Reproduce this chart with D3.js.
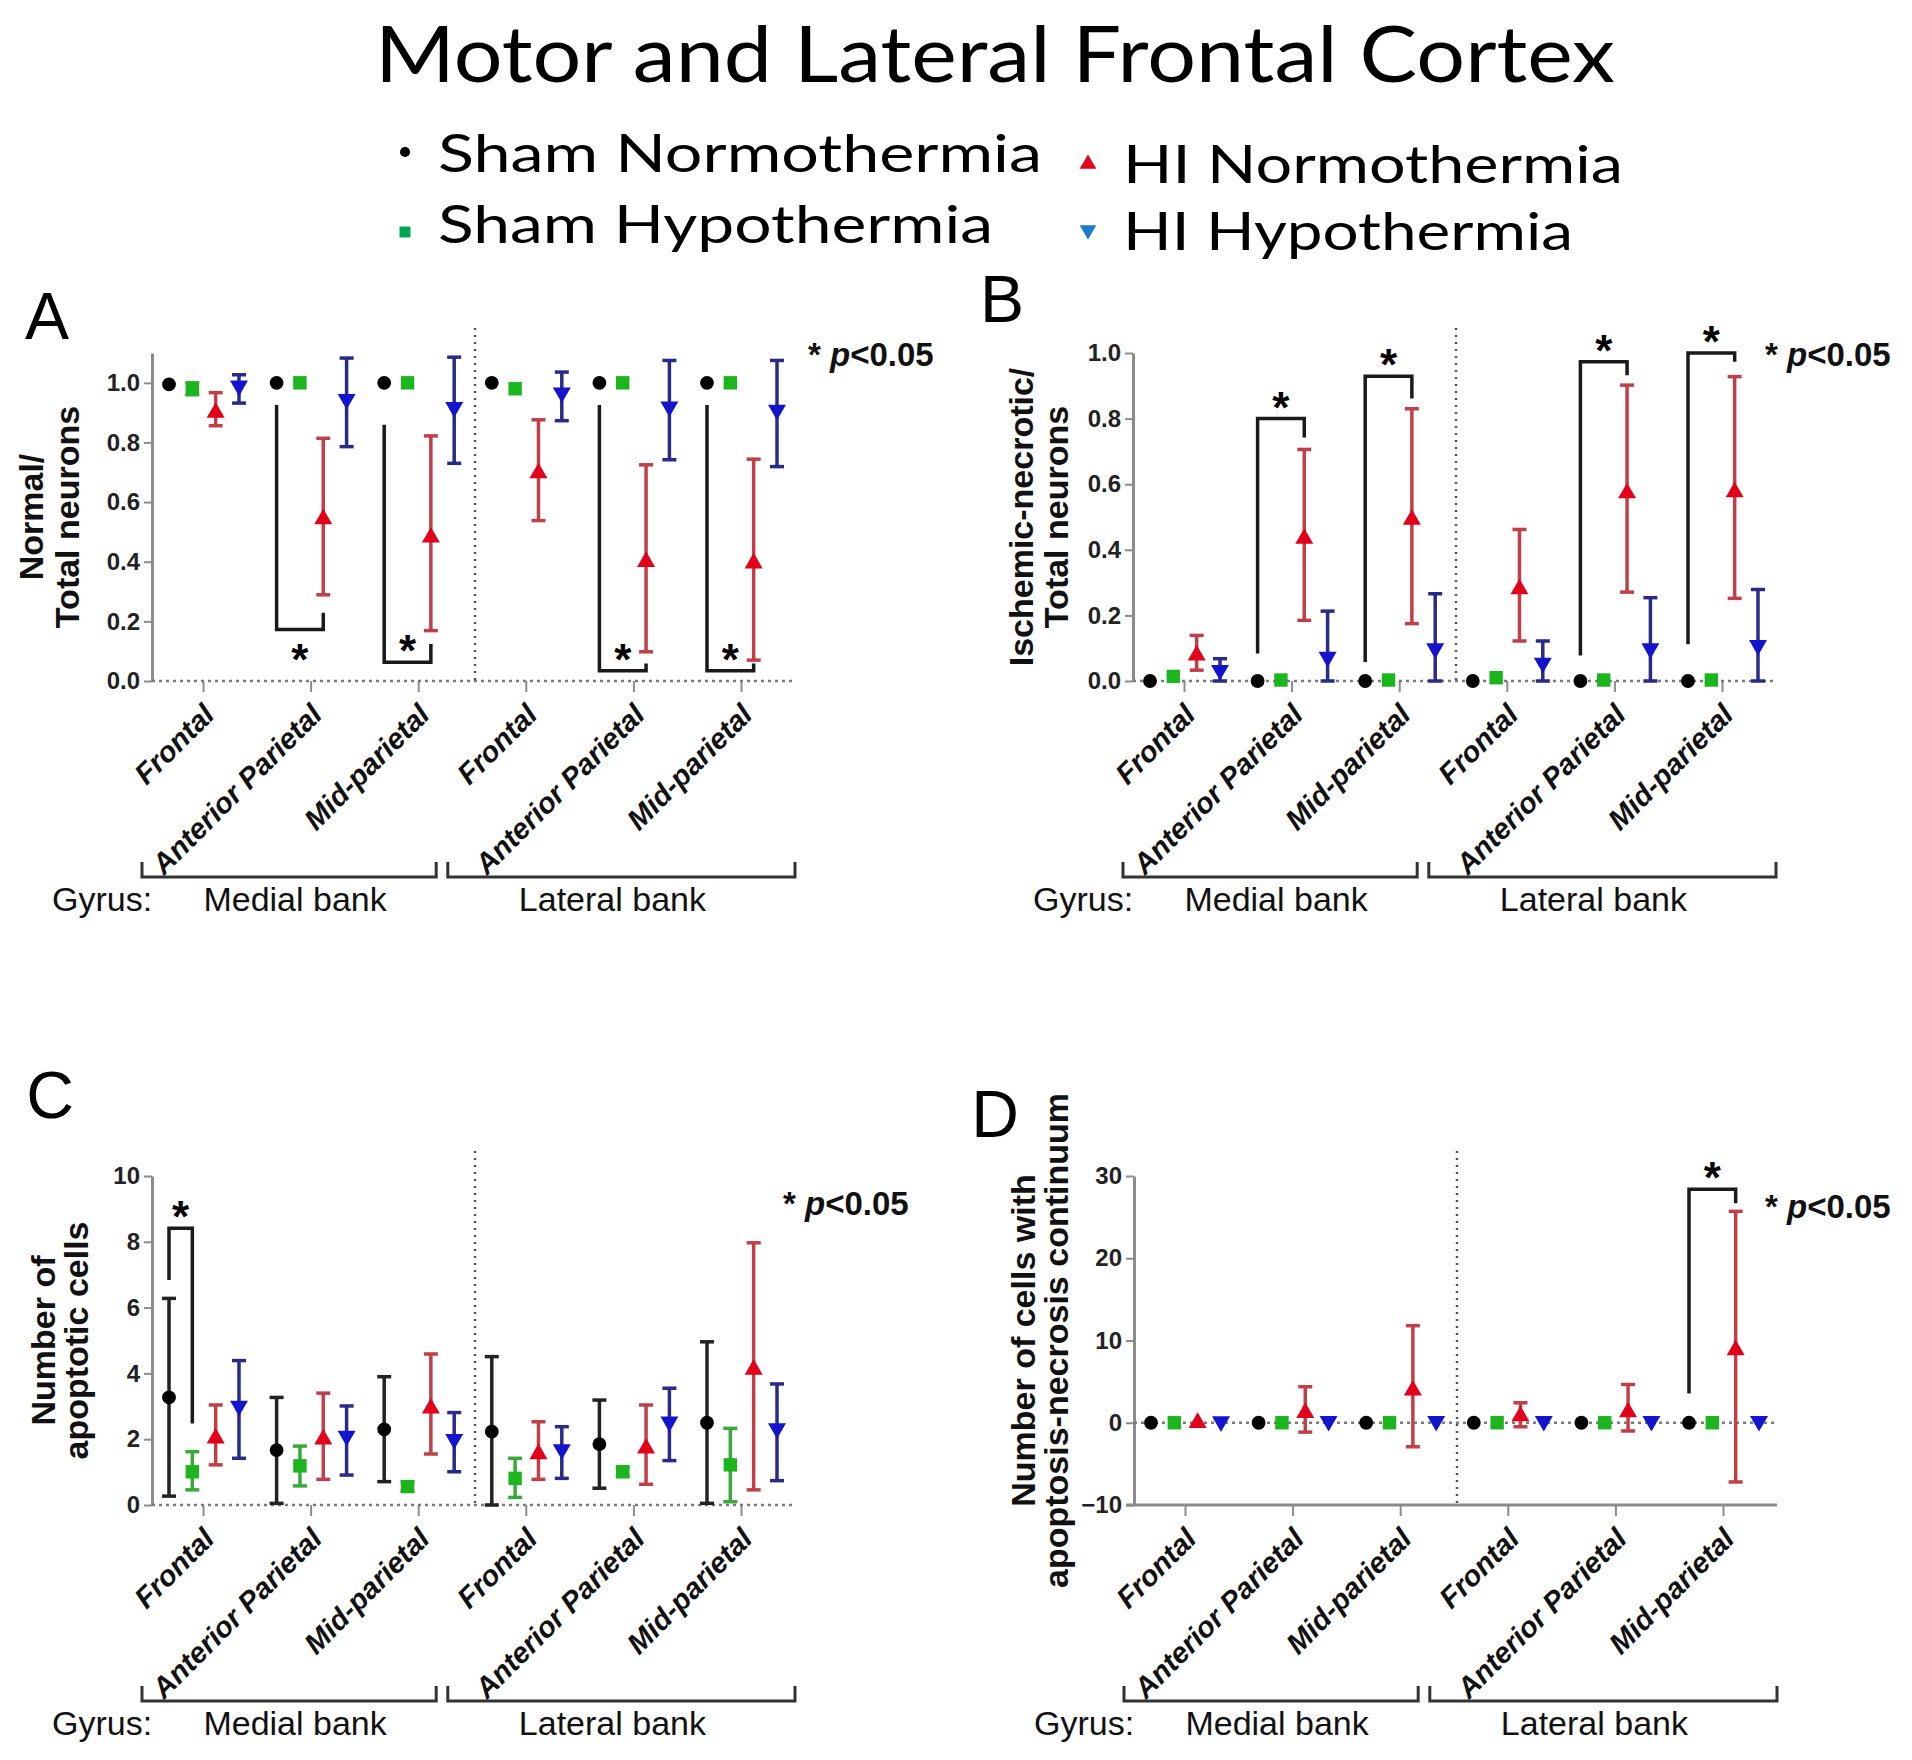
<!DOCTYPE html>
<html>
<head>
<meta charset="utf-8">
<script src="https://cdn.jsdelivr.net/npm/d3@7"></script>
<style>
  body { margin: 0; background: #fff; }
  svg { display: block; }
</style>
</head>
<body>
<div id="chart"></div>
<script>
// Categories
const regions = ["Frontal", "Anterior Parietal", "Mid-parietal", "Frontal", "Anterior Parietal", "Mid-parietal"];
const banks = ["Medial bank", "Lateral bank"];
const seriesNames = ["Sham Normothermia", "Sham Hypothermia", "HI Normothermia", "HI Hypothermia"];

// Values per gyrus as [mean, lower, upper]
// A: Normal / Total neurons
const aShamNormo = [[0.995, 0.995, 0.995], [1, 1, 1], [1, 1, 1], [1, 1, 1], [1, 1, 1], [1, 1, 1]];
const aShamHypo = [[0.98, 0.96, 1.0], [1, 1, 1], [1, 1, 1], [0.98, 0.97, 0.99], [1, 1, 1], [1, 1, 1]];
const aHINormo = [[0.90, 0.856, 0.967], [0.543, 0.289, 0.814], [0.482, 0.169, 0.822], [0.697, 0.538, 0.876], [0.40, 0.098, 0.725], [0.395, 0.07, 0.744]];
const aHIHypo = [[0.99, 0.932, 1.027], [0.945, 0.786, 1.083], [0.918, 0.73, 1.086], [0.967, 0.873, 1.036], [0.92, 0.742, 1.075], [0.909, 0.719, 1.075]];

// B: Ischemic-necrotic / Total neurons
const bShamNormo = [[0, 0, 0], [0, 0, 0], [0, 0, 0], [0, 0, 0], [0, 0, 0], [0, 0, 0]];
const bShamHypo = [[0.014, 0.004, 0.024], [0.003, 0.003, 0.003], [0.003, 0.003, 0.003], [0.01, 0.003, 0.017], [0.003, 0.003, 0.003], [0.003, 0.003, 0.003]];
const bHINormo = [[0.078, 0.033, 0.139], [0.434, 0.185, 0.706], [0.492, 0.175, 0.83], [0.28, 0.122, 0.462], [0.573, 0.271, 0.902], [0.576, 0.252, 0.928]];
const bHIHypo = [[0.033, 0, 0.068], [0.073, 0, 0.213], [0.099, 0, 0.266], [0.055, 0, 0.122], [0.099, 0, 0.254], [0.109, 0, 0.279]];

// C: Number of apoptotic cells
const cShamNormo = [[3.27, 0.27, 6.28], [1.67, 0.05, 3.27], [2.30, 0.71, 3.90], [2.23, 0, 4.51], [1.85, 0.51, 3.19], [2.50, 0.05, 4.96]];
const cShamHypo = [[1.01, 0.46, 1.62], [1.19, 0.58, 1.79], [0.56, 0.42, 0.70], [0.81, 0.23, 1.42], [1.01, 0.87, 1.15], [1.22, 0.1, 2.33]];
const cHINormo = [[2.03, 1.22, 3.04], [2.0, 0.78, 3.40], [2.94, 1.55, 4.59], [1.55, 0.78, 2.53], [1.72, 0.63, 3.04], [4.12, 0.46, 7.97]];
const cHIHypo = [[3.01, 1.42, 4.39], [2.10, 0.91, 3.01], [2.0, 1.01, 2.81], [1.69, 0.81, 2.38], [2.53, 1.35, 3.55], [2.33, 0.74, 3.68]];

// D: Number of cells with apoptosis-necrosis continuum
const dShamNormo = [[0, 0, 0], [0, 0, 0], [0, 0, 0], [0, 0, 0], [0, 0, 0], [0, 0, 0]];
const dShamHypo = [[0, 0, 0], [0, 0, 0], [0, 0, 0], [0, 0, 0], [0, 0, 0], [0, 0, 0]];
const dHINormo = [[0, 0, 0], [1.22, -1.14, 4.38], [3.94, -2.92, 11.8], [0.8, -0.49, 2.43], [1.29, -1.0, 4.65], [8.83, -7.2, 25.7]];
const dHIHypo = [[0.15, 0.15, 0.15], [0.2, 0.2, 0.2], [0.2, 0.2, 0.2], [0.2, 0.2, 0.2], [0.2, 0.2, 0.2], [0.2, 0.2, 0.2]];

// Tick values
const aTicks = [0, 0.2, 0.4, 0.6, 0.8, 1.0];
const bTicks = [0, 0.2, 0.4, 0.6, 0.8, 1.0];
const cTicks = [0, 2, 4, 6, 8, 10];
const dTicks = [-10, 0, 10, 20, 30];

// Significance brackets: gyrus, series from/to, arm ends and bar level in data units
const aSig = [
  { group: 1, from: 0, to: 2, left: 0.926, bar: 0.173, right: 0.229, star: "below" },
  { group: 2, from: 0, to: 2, left: 0.859, bar: 0.063, right: 0.124, star: "inside" },
  { group: 4, from: 0, to: 2, left: 0.926, bar: 0.034, right: 0.059, star: "inside" },
  { group: 5, from: 0, to: 2, left: 0.926, bar: 0.034, right: 0.059, star: "inside" }
];
const bSig = [
  { group: 1, from: 0, to: 2, left: 0.084, bar: 0.80, right: 0.742, star: "above" },
  { group: 2, from: 0, to: 2, left: 0.058, bar: 0.929, right: 0.861, star: "above" },
  { group: 4, from: 0, to: 2, left: 0.078, bar: 0.973, right: 0.932, star: "above" },
  { group: 5, from: 0, to: 2, left: 0.112, bar: 1.0, right: 0.973, star: "above" }
];
const cSig = [
  { group: 0, from: 0, to: 1, left: 6.84, bar: 8.41, right: 2.48, star: "above" }
];
const dSig = [
  { group: 5, from: 0, to: 2, left: 3.56, bar: 28.4, right: 26.7, star: "above" }
];

// Styles per series
const markerFill = ["#000000", "#1db51d", "#e2001a", "#1414cc"];
const barColor = ["#222222", "#3aa83a", "#c0404a", "#2a2a88"];
const symbols = [d3.symbolCircle, d3.symbolSquare, d3.symbolTriangle, d3.symbolTriangle];
const symbolSize = [150, 180, 140, 140];
const symbolRotate = [0, 0, 0, 180];

const arial = "'Liberation Sans', Arial, sans-serif";
const calibri = "Lato, 'Open Sans', sans-serif";

const svg = d3.select("#chart")
  .append("svg")
  .attr("width", 1912)
  .attr("height", 1760)
  .style("background", "#fff");

// Title
svg.append("text")
  .attr("x", 995)
  .attr("y", 82)
  .attr("text-anchor", "middle")
  .attr("font-family", calibri)
  .attr("font-size", 78)
  .attr("textLength", 1240)
  .attr("lengthAdjust", "spacingAndGlyphs")
  .attr("fill", "#000")
  .text("Motor and Lateral Frontal Cortex");

// Legend
const legendItems = [
  { name: seriesNames[0], s: 0, mx: 405, my: 152, tx: 438, ty: 172, w: 604 },
  { name: seriesNames[1], s: 1, mx: 405, my: 232, tx: 438, ty: 243, w: 555 },
  { name: seriesNames[2], s: 2, mx: 1088, my: 164, tx: 1123, ty: 183, w: 500 },
  { name: seriesNames[3], s: 3, mx: 1088, my: 230, tx: 1123, ty: 250, w: 450 }
];
const legend = svg.append("g").attr("class", "legend");
legend.selectAll("text")
  .data(legendItems)
  .enter()
  .append("text")
  .attr("x", d => d.tx)
  .attr("y", d => d.ty)
  .attr("font-family", calibri)
  .attr("font-size", 52)
  .attr("textLength", d => d.w)
  .attr("lengthAdjust", "spacingAndGlyphs")
  .attr("fill", "#000")
  .text(d => d.name);

legend.selectAll("path")
  .data(legendItems)
  .enter()
  .append("path")
  .attr("d", d => d3.symbol().type(symbols[d.s]).size(d.s === 0 ? 80 : 120)())
  .attr("transform", d => `translate(${d.mx},${d.my}) rotate(${symbolRotate[d.s]})`)
  .style("fill", d => (d.s === 1 ? "#00a651" : d.s === 3 ? "#1f78c8" : markerFill[d.s]));

function drawPanel(cfg) {
  const g = svg.append("g").attr("class", "panel");
  const xEnd = cfg.x0 + 643;
  const x = d3.scalePoint().domain(d3.range(6)).range([cfg.x0 + 51, cfg.x0 + 51 + 5 * 107.6]);
  const sub = d3.scalePoint().domain(d3.range(4)).range([-34, 36]);
  const y = d3.scaleLinear().domain(cfg.domain).range([cfg.yBottom, cfg.yTop]);
  const px = (grp, s) => x(grp) + sub(s);

  // Panel letter
  g.append("text")
    .attr("x", cfg.letter[1])
    .attr("y", cfg.letter[2])
    .attr("text-anchor", "middle")
    .attr("font-family", arial)
    .attr("font-size", 66)
    .text(cfg.letter[0]);

  // Y axis
  const yAxis = g.append("g")
    .attr("transform", `translate(${cfg.x0},0)`)
    .call(d3.axisLeft(y).tickValues(cfg.ticks).tickFormat(cfg.fmt).tickSize(8).tickSizeOuter(0).tickPadding(4));
  yAxis.select(".domain").attr("stroke", "#8c8c8c").attr("stroke-width", 3);
  yAxis.selectAll(".tick line").attr("stroke", "#8c8c8c").attr("stroke-width", 2);
  yAxis.selectAll(".tick text")
    .attr("font-family", arial)
    .attr("font-size", 24)
    .attr("font-weight", "bold")
    .attr("fill", "#222");

  // Y axis title
  cfg.yTitle.forEach((line, i) => {
    g.append("text")
      .attr("transform", `translate(${cfg.yTitleX[i]},${(cfg.yTop + cfg.yBottom) / 2}) rotate(-90)`)
      .attr("dy", "0.35em")
      .attr("text-anchor", "middle")
      .attr("font-family", arial)
      .attr("font-size", 34)
      .attr("font-weight", "bold")
      .attr("fill", "#111")
      .text(line);
  });

  // X axis (solid bottom line when the scale goes below zero)
  const baseY = y(cfg.domain[0]);
  if (cfg.domain[0] < 0) {
    g.append("line")
      .attr("x1", cfg.x0 - 8).attr("x2", xEnd)
      .attr("y1", baseY).attr("y2", baseY)
      .attr("stroke", "#8c8c8c").attr("stroke-width", 3);
  }
  const xAxis = g.append("g")
    .attr("transform", `translate(0,${baseY})`)
    .call(d3.axisBottom(x).tickSize(11).tickFormat(i => regions[i]));
  xAxis.select(".domain").remove();
  xAxis.selectAll(".tick line").attr("stroke", "#8c8c8c").attr("stroke-width", 2);
  xAxis.selectAll(".tick text")
    .attr("x", 0)
    .attr("y", 0)
    .attr("dy", "0.71em")
    .attr("text-anchor", "end")
    .attr("transform", "translate(-2,21) rotate(-45)")
    .attr("font-family", arial)
    .attr("font-size", 29)
    .attr("font-weight", "bold")
    .attr("font-style", "italic")
    .attr("fill", "#111");

  // Dotted zero line
  g.append("line")
    .attr("x1", cfg.x0).attr("x2", xEnd)
    .attr("y1", y(0)).attr("y2", y(0))
    .attr("stroke", "#7a7a7a")
    .attr("stroke-width", 2.5)
    .attr("stroke-dasharray", "3,4");

  // Dotted separator between medial and lateral banks
  const sepX = (x(2) + x(3)) / 2 + 3;
  g.append("line")
    .attr("x1", sepX).attr("x2", sepX)
    .attr("y1", cfg.yTop - 25).attr("y2", baseY)
    .attr("stroke", "#555")
    .attr("stroke-width", 2.5)
    .attr("stroke-dasharray", "2,5");

  // Flatten series into points
  const points = [];
  cfg.data.forEach((arr, s) => {
    arr.forEach((v, grp) => points.push({ s, grp, mean: v[0], lo: v[1], hi: v[2] }));
  });

  // Error bars
  const bars = g.append("g").attr("class", "errorbars");
  const withErr = points.filter(d => d.hi - d.lo > 0.0001);
  bars.selectAll(".stem")
    .data(withErr)
    .enter()
    .append("line")
    .attr("x1", d => px(d.grp, d.s)).attr("x2", d => px(d.grp, d.s))
    .attr("y1", d => y(d.lo)).attr("y2", d => y(d.hi))
    .attr("stroke", d => barColor[d.s])
    .attr("stroke-width", 3.5);
  ["lo", "hi"].forEach(k => {
    bars.selectAll(".cap-" + k)
      .data(withErr.filter(d => Math.abs(y(d[k]) - y(d.mean)) > 4))
      .enter()
      .append("line")
      .attr("x1", d => px(d.grp, d.s) - 7).attr("x2", d => px(d.grp, d.s) + 7)
      .attr("y1", d => y(d[k])).attr("y2", d => y(d[k]))
      .attr("stroke", d => barColor[d.s])
      .attr("stroke-width", 3.5);
  });

  // Markers
  g.append("g").attr("class", "markers")
    .selectAll("path")
    .data(points)
    .enter()
    .append("path")
    .attr("d", d => d3.symbol().type(symbols[d.s]).size(symbolSize[d.s])())
    .attr("transform", d => `translate(${px(d.grp, d.s)},${y(d.mean)}) rotate(${symbolRotate[d.s]})`)
    .style("fill", d => markerFill[d.s]);

  // Significance brackets
  const sig = g.append("g").attr("class", "sig");
  cfg.sig.forEach(b => {
    const xl = px(b.group, b.from);
    const xr = px(b.group, b.to);
    sig.append("path")
      .attr("d", `M${xl},${y(b.left)}V${y(b.bar)}H${xr}V${y(b.right)}`)
      .attr("fill", "none")
      .attr("stroke", "#1a1a1a")
      .attr("stroke-width", 3.5);
    const cy = b.star === "below" ? y(b.bar) + 21 : y(b.bar) - 21;
    sig.append("text")
      .attr("x", (xl + xr) / 2)
      .attr("y", cy + 25)
      .attr("text-anchor", "middle")
      .attr("font-family", arial)
      .attr("font-size", 44)
      .attr("font-weight", "bold")
      .text("*");
  });

  // p-value note
  const note = g.append("text")
    .attr("x", cfg.note[0])
    .attr("y", cfg.note[1])
    .attr("font-family", arial)
    .attr("font-size", 33)
    .attr("font-weight", "bold")
    .attr("fill", "#111");
  note.append("tspan").text("* ");
  note.append("tspan").attr("font-style", "italic").text("p");
  note.append("tspan").text("<0.05");

  // Gyrus brackets
  const gy = baseY + 196;
  const spans = [
    [x(0) - 61, x(2) + 18],
    [x(3) - 78, x(5) + 54]
  ];
  spans.forEach(([a, b], i) => {
    g.append("path")
      .attr("d", `M${a},${gy - 15}V${gy}H${b}V${gy - 15}`)
      .attr("fill", "none")
      .attr("stroke", "#333")
      .attr("stroke-width", 3);
    g.append("text")
      .attr("x", (a + b) / 2 + (i === 0 ? 6 : -9))
      .attr("y", gy + 34)
      .attr("text-anchor", "middle")
      .attr("font-family", arial)
      .attr("font-size", 34)
      .attr("fill", "#111")
      .text(banks[i]);
  });
  g.append("text")
    .attr("x", cfg.x0 - 100)
    .attr("y", gy + 34)
    .attr("font-family", arial)
    .attr("font-size", 34)
    .attr("fill", "#111")
    .text("Gyrus:");
}

drawPanel({
  x0: 152, yTop: 353, yBottom: 681, domain: [0, 1.1], ticks: aTicks, fmt: d3.format(".1f"),
  data: [aShamNormo, aShamHypo, aHINormo, aHIHypo], sig: aSig,
  yTitle: ["Normal/", "Total neurons"], yTitleX: [31, 67],
  letter: ["A", 47, 339], note: [808, 366]
});
drawPanel({
  x0: 1133, yTop: 353, yBottom: 681, domain: [0, 1], ticks: bTicks, fmt: d3.format(".1f"),
  data: [bShamNormo, bShamHypo, bHINormo, bHIHypo], sig: bSig,
  yTitle: ["Ischemic-necrotic/", "Total neurons"], yTitleX: [1021, 1056],
  letter: ["B", 1002, 322], note: [1765, 366]
});
drawPanel({
  x0: 152, yTop: 1176, yBottom: 1505, domain: [0, 10], ticks: cTicks, fmt: d3.format("d"),
  data: [cShamNormo, cShamHypo, cHINormo, cHIHypo], sig: cSig,
  yTitle: ["Number of", "apoptotic cells"], yTitleX: [43, 76],
  letter: ["C", 50, 1118], note: [783, 1215]
});
drawPanel({
  x0: 1134, yTop: 1176, yBottom: 1505, domain: [-10, 30], ticks: dTicks, fmt: d3.format("d"),
  data: [dShamNormo, dShamHypo, dHINormo, dHIHypo], sig: dSig,
  yTitle: ["Number of cells with", "apoptosis-necrosis continuum"], yTitleX: [1023, 1056],
  letter: ["D", 995, 1137], note: [1765, 1218]
});
</script>
</body>
</html>
